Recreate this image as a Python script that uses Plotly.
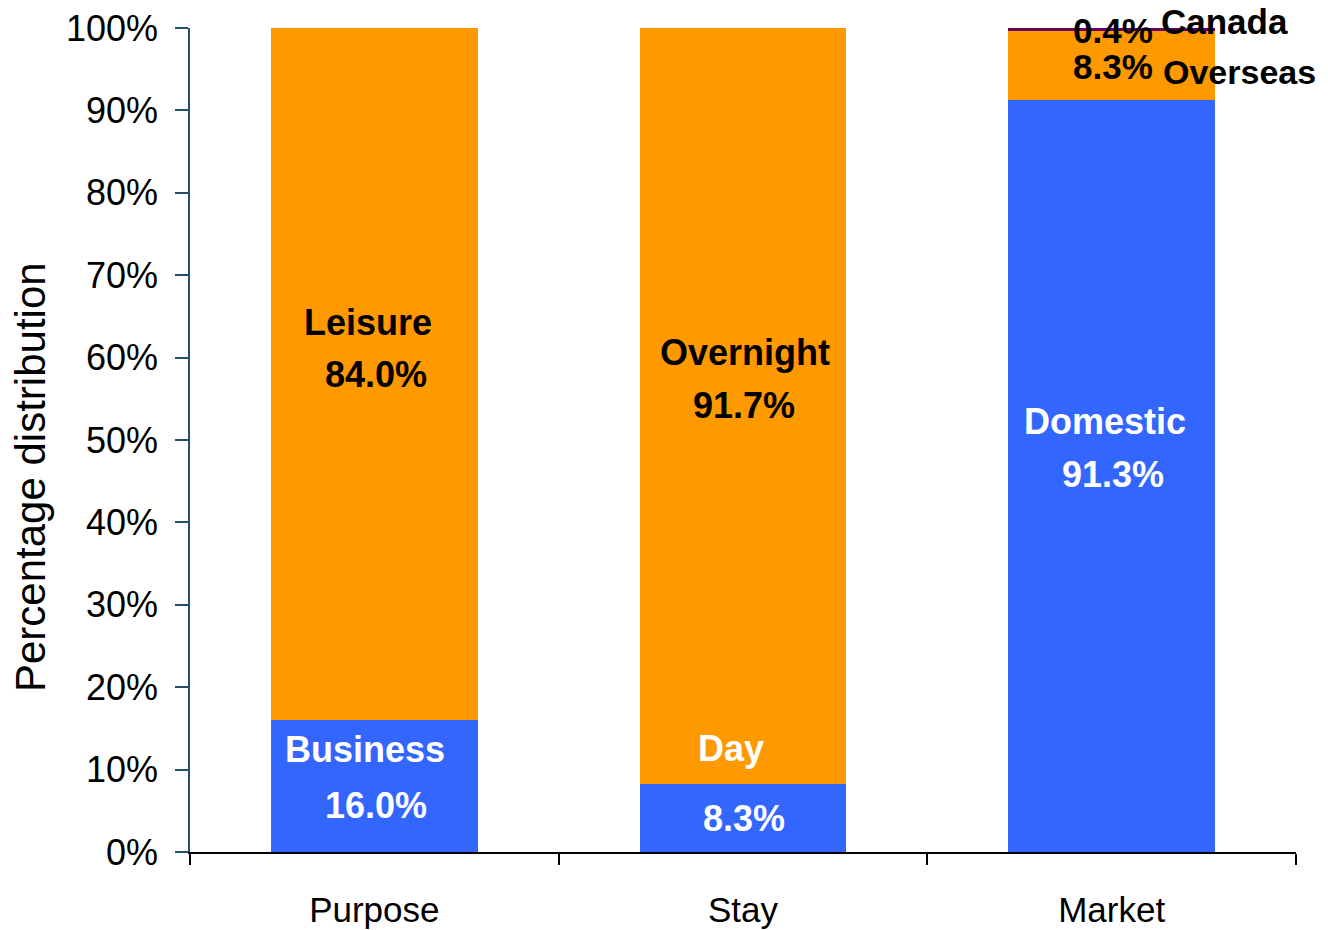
import plotly.graph_objects as go

# ---- data ----
categories = ["Purpose", "Stay", "Market"]
bottom_names = ["Business", "Day", "Domestic"]
bottom_values = [16.0, 8.3, 91.3]
middle_names = ["Leisure", "Overnight", "Overseas"]
middle_values = [84.0, 91.7, 8.3]
top_names = ["", "", "Canada"]
top_values = [0.0, 0.0, 0.4]
y_tick_values = [0, 10, 20, 30, 40, 50, 60, 70, 80, 90, 100]
y_tick_labels = [f"{v}%" for v in y_tick_values]

BLUE = "#3366FF"
ORANGE = "#FF9900"
PURPLE = "#660066"
FONT = "Liberation Sans, Arial, sans-serif"

fig = go.Figure()
fig.add_trace(go.Bar(x=categories, y=bottom_values, name="bottom", marker=dict(color=BLUE, line=dict(width=0))))
fig.add_trace(go.Bar(x=categories, y=middle_values, name="middle", marker=dict(color=ORANGE, line=dict(width=0))))
fig.add_trace(go.Bar(x=categories, y=top_values, name="top", marker=dict(color=PURPLE, line=dict(width=0))))

def pct(v):
    return f"{v:.1f}%"

# label placement (category, text, y, xshift, yshift, color, xanchor, size)
labels = [
    (categories[0], middle_names[0], 64.3, -6, 0, "black", "center", 36),
    (categories[0], pct(middle_values[0]), 57.9, 2, 0, "black", "center", 36),
    (categories[0], bottom_names[0], 12.5, -9, 0, "white", "center", 36),
    (categories[0], pct(bottom_values[0]), 5.7, 2, 0, "white", "center", 36),
    (categories[1], middle_names[1], 60.6, 2, 0, "black", "center", 36),
    (categories[1], pct(middle_values[1]), 54.2, 1, 0, "black", "center", 36),
    (categories[1], bottom_names[1], 12.6, -12, 0, "white", "center", 36),
    (categories[1], pct(bottom_values[1]), 4.1, 1, 0, "white", "center", 36),
    (categories[2], bottom_names[2], 52.2, -7, 0, "white", "center", 36),
    (categories[2], pct(bottom_values[2]), 45.8, 1, 0, "white", "center", 36),
    (categories[2], pct(top_values[2]), 100, 1, -2, "black", "center", 35),
    (categories[2], top_names[2], 100, 47, 7, "black", "left", 35),
    (categories[2], pct(middle_values[2]), 95.3, 1, 0, "black", "center", 35),
    (categories[2], middle_names[2], 94.7, 49, 0, "black", "left", 34),
]
for cat, txt, yv, xs, ys, col, xa, sz in labels:
    fig.add_annotation(x=cat, y=yv, xref="x", yref="y", text=f"<b>{txt}</b>",
                       showarrow=False, xshift=xs, yshift=ys, xanchor=xa, yanchor="middle",
                       font=dict(family=FONT, size=sz, color=col))

# page body has an 8px margin; figure coords = picture coords - 8
L, R, T, B = 182, 32, 20, 78
W, H = 1320, 922
pw, ph = W - L - R, H - T - B
fig.add_annotation(x=(23 - L) / pw, y=(H - B - 469) / ph, xref="paper", yref="paper",
                   text="Percentage distribution", showarrow=False, textangle=-90,
                   xanchor="center", yanchor="middle",
                   font=dict(family=FONT, size=42, color="black"))

fig.update_layout(
    width=W, height=H,
    barmode="stack", bargap=0.44,
    showlegend=False,
    plot_bgcolor="white", paper_bgcolor="white",
    margin=dict(l=L, r=R, t=T, b=B, autoexpand=False),
    font=dict(family=FONT, color="black"),
)
fig.update_xaxes(
    range=[-0.5, len(categories) - 0.5],
    showline=True, linecolor="black", linewidth=1.5,
    ticks="outside", tickson="boundaries", ticklen=11, tickcolor="black", tickwidth=1.5,
    tickfont=dict(family=FONT, size=35, color="black"),
    ticklabelstandoff=26,
    showgrid=False, zeroline=False,
)
fig.update_yaxes(
    range=[0, 100], showline=True, linecolor="#24506e", linewidth=1.5,
    ticks="outside", ticklen=13, tickcolor="#24506e", tickwidth=1.5,
    tickvals=y_tick_values, ticktext=y_tick_labels,
    tickfont=dict(family=FONT, size=36, color="black"),
    ticklabelstandoff=10, ticklabeloverflow="allow",
    showgrid=False, zeroline=False,
)

fig.write_html("out.html")
